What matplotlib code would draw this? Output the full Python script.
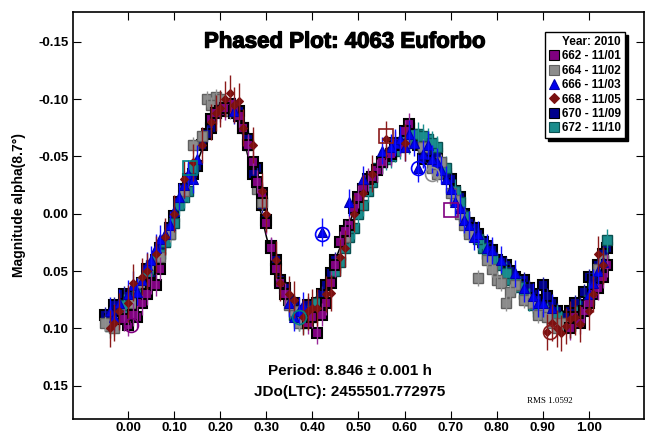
import matplotlib
matplotlib.use("Agg")
import matplotlib.pyplot as plt
import matplotlib.patheffects as pe
from matplotlib.lines import Line2D

plt.rcParams['font.family'] = ['Liberation Sans', 'DejaVu Sans']

# ---- data ----
fit_phase = [-0.05, 0.00, 0.05, 0.10, 0.15, 0.18, 0.20, 0.22, 0.24, 0.26, 0.28, 0.30, 0.32,
             0.34, 0.36, 0.38, 0.40, 0.42, 0.45, 0.48, 0.50, 0.53, 0.56, 0.60, 0.63, 0.66,
             0.70, 0.73, 0.76, 0.80, 0.85, 0.90, 0.93, 0.96, 1.00, 1.03, 1.05]
fit_mag = [0.097, 0.078, 0.042, 0.002, -0.045, -0.078, -0.093, -0.095, -0.083, -0.050, -0.015,
           0.020, 0.050, 0.068, 0.080, 0.083, 0.078, 0.065, 0.040, 0.008, -0.012, -0.038,
           -0.056, -0.068, -0.066, -0.055, -0.025, 0.000, 0.018, 0.038, 0.058, 0.076, 0.086,
           0.084, 0.064, 0.040, 0.020]

p662 = [0.00, 0.02, 0.03, 0.05, 0.07, 0.18, 0.20, 0.22, 0.24, 0.25, 0.27, 0.29, 0.31, 0.33,
        0.39, 0.41, 0.43, 0.45, 0.46, 0.48, 0.49, 0.51, 0.52, 0.54, 0.56, 0.59, 0.61, 0.97,
        0.99, 1.01, 1.03, 1.04,
        -0.01, 0.01, 0.04, 0.06, 0.19, 0.21, 0.23, 0.26, 0.28, 0.30, 0.32, 0.34, 0.40, 0.42,
        0.44, 0.47, 0.50, 0.53, 0.55, 0.57, 0.58, 0.60, 0.96, 0.98, 1.00, 1.02]
m662 = [0.097, 0.090, 0.078, 0.060, 0.048, -0.083, -0.090, -0.096, -0.085, -0.075, -0.045,
        -0.018, 0.030, 0.060, 0.095, 0.104, 0.078, 0.045, 0.025, 0.010, -0.005, -0.022,
        -0.030, -0.038, -0.050, -0.060, -0.078, 0.090, 0.085, 0.070, 0.055, 0.045,
        0.092, 0.088, 0.070, 0.062, -0.088, -0.092, -0.090, -0.060, -0.028, 0.008, 0.048,
        0.070, 0.090, 0.088, 0.060, 0.015, -0.015, -0.032, -0.045, -0.052, -0.062, -0.072,
        0.100, 0.095, 0.078, 0.065]

p664 = [-0.04, -0.03, 0.03, 0.09, 0.14, 0.17, 0.19, 0.21, 0.26, 0.29, 0.36, 0.38, 0.40, 0.47,
        0.60, 0.66, 0.68, 0.71, 0.73, 0.76, 0.79, 0.82, 0.84, 0.87, 0.90, 0.92, 0.95, 1.03,
        -0.05, 0.01, 0.05, 0.07, 0.12, 0.16, 0.18, 0.20, 0.22, 0.28, 0.35, 0.37, 0.39, 0.64,
        0.67, 0.70, 0.72, 0.74, 0.78, 0.80, 0.81, 0.83, 0.86, 0.88, 0.89, 0.91, 0.93, 0.94,
        0.97, 1.02]
m664 = [0.098, 0.100, 0.060, 0.018, -0.060, -0.100, -0.102, -0.096, -0.060, -0.010, 0.085,
        0.092, 0.090, 0.020, -0.062, -0.040, -0.045, -0.012, 0.010, 0.056, 0.048, 0.078,
        0.062, 0.075, 0.085, 0.095, 0.098, 0.040,
        0.095, 0.078, 0.045, 0.038, -0.020, -0.068, -0.095, -0.100, -0.090, -0.022, 0.080,
        0.095, 0.088, -0.058, -0.035, -0.018, 0.000, 0.018, 0.040, 0.058, 0.060, 0.068,
        0.075, 0.078, 0.088, 0.090, 0.100, 0.095, 0.092, 0.048]

p666 = [-0.04, -0.02, 0.01, 0.04, 0.06, 0.09, 0.11, 0.13, 0.15, 0.23, 0.35, 0.37, 0.42, 0.48,
        0.51, 0.55, 0.58, 0.61, 0.63, 0.65, 0.67, 0.69, 0.71, 0.73, 0.75, 0.78, 0.86, 0.89,
        1.00, 1.02,
        -0.03, 0.00, 0.02, 0.03, 0.05, 0.07, 0.08, 0.10, 0.12, 0.14, 0.36, 0.38, 0.57, 0.59,
        0.60, 0.62, 0.64, 0.66, 0.68, 0.70, 0.72, 0.74, 0.76, 0.79, 0.81, 0.84, 0.88, 0.90,
        0.92, 1.01, 1.03]
m666 = [0.085, 0.078, 0.062, 0.045, 0.030, 0.010, -0.015, -0.035, -0.048, -0.090, 0.078,
        0.085, 0.016, -0.010, -0.030, -0.055, -0.062, -0.070, -0.040, -0.060, -0.045, -0.030,
        -0.010, 0.005, 0.020, 0.030, 0.065, 0.078, 0.070, 0.050,
        0.090, 0.070, 0.068, 0.058, 0.040, 0.022, 0.018, -0.002, -0.025, -0.030, 0.090,
        0.080, -0.058, -0.065, -0.058, -0.062, -0.052, -0.048, -0.038, -0.022, -0.005, 0.010,
        0.018, 0.032, 0.040, 0.052, 0.072, 0.078, 0.082, 0.060, 0.042]

p668 = [-0.04, -0.02, 0.01, 0.04, 0.08, 0.12, 0.16, 0.19, 0.22, 0.24, 0.27, 0.30, 0.33, 0.36,
        0.39, 0.41, 0.44, 0.46, 0.49, 0.53, 0.56, 0.60, 0.91, 0.93, 0.95, 0.97, 1.00, 1.02,
        -0.03, 0.00, 0.03, 0.06, 0.10, 0.14, 0.18, 0.20, 0.21, 0.23, 0.25, 0.29, 0.32, 0.35,
        0.38, 0.40, 0.43, 0.47, 0.51, 0.92, 0.94, 0.96, 0.98, 1.01, 1.03]
m668 = [0.100, 0.085, 0.060, 0.050, 0.020, -0.030, -0.060, -0.088, -0.105, -0.098, -0.060,
        0.000, 0.060, 0.075, 0.085, 0.082, 0.069, 0.038, 0.000, -0.035, -0.065, -0.062, 0.103,
        0.100, 0.098, 0.090, 0.085, 0.035,
        0.095, 0.078, 0.055, 0.035, 0.000, -0.045, -0.080, -0.092, -0.100, -0.095, -0.075,
        -0.020, 0.040, 0.070, 0.090, 0.082, 0.070, 0.030, -0.018, 0.095, 0.104, 0.092, 0.096,
        0.070, 0.045]

p670 = [-0.05, -0.03, -0.01, 0.02, 0.04, 0.06, 0.08, 0.10, 0.12, 0.14, 0.16, 0.18, 0.20, 0.22,
        0.24, 0.26, 0.28, 0.30, 0.32, 0.34, 0.36, 0.38, 0.40, 0.42, 0.44, 0.62, 0.64, 0.66,
        0.68, 0.70, 0.72, 0.74, 0.76, 0.78, 0.80, 0.82, 0.84, 0.86, 0.88, 0.90, 0.92, 0.94,
        0.96, 0.98, 1.00, 1.02, 1.04,
        -0.04, -0.02, 0.00, 0.01, 0.03, 0.05, 0.07, 0.09, 0.11, 0.13, 0.15, 0.17, 0.19, 0.21,
        0.23, 0.25, 0.27, 0.29, 0.31, 0.33, 0.35, 0.37, 0.39, 0.41, 0.43, 0.45, 0.47, 0.50,
        0.53, 0.56, 0.59, 0.63, 0.65, 0.67, 0.69, 0.71, 0.73, 0.75, 0.77, 0.79, 0.81, 0.83,
        0.85, 0.87, 0.89, 0.91, 0.93, 0.95, 0.97, 0.99, 1.01, 1.03]
m670 = [0.088, 0.080, 0.070, 0.068, 0.048, 0.040, 0.025, 0.002, -0.022, -0.035, -0.060,
        -0.075, -0.092, -0.092, -0.090, -0.065, -0.040, 0.005, 0.040, 0.065, 0.078, 0.085,
        0.082, 0.070, 0.052, -0.065, -0.048, -0.050, -0.040, -0.030, -0.015, 0.008, 0.018,
        0.028, 0.040, 0.045, 0.055, 0.058, 0.070, 0.062, 0.078, 0.092, 0.085, 0.080, 0.055,
        0.045, 0.030,
        0.092, 0.085, 0.072, 0.075, 0.060, 0.052, 0.030, 0.012, -0.010, -0.030, -0.042,
        -0.070, -0.088, -0.095, -0.088, -0.075, -0.035, -0.008, 0.028, 0.058, 0.075, 0.085,
        0.080, 0.078, 0.062, 0.040, 0.025, -0.008, -0.032, -0.050, -0.062, -0.060, -0.055,
        -0.052, -0.035, -0.020, 0.000, 0.012, 0.025, 0.032, 0.042, 0.050, 0.062, 0.065,
        0.075, 0.072, 0.085, 0.090, 0.078, 0.068, 0.058, 0.035]

p672 = [-0.03, 0.00, 0.02, 0.05, 0.07, 0.09, 0.11, 0.13, 0.14, 0.37, 0.39, 0.45, 0.47, 0.50,
        0.52, 0.54, 0.57, 0.59, 0.61, 0.63, 0.65, 0.67, 0.72, 0.74, 0.77, 0.80, 0.83, 0.86,
        0.88, 0.91, 0.94, 0.97, 1.01, 1.04,
        -0.04, -0.01, 0.01, 0.04, 0.06, 0.08, 0.10, 0.12, 0.36, 0.38, 0.40, 0.41, 0.46, 0.48,
        0.49, 0.51, 0.53, 0.55, 0.56, 0.58, 0.60, 0.62, 0.64, 0.66, 0.69, 0.71, 0.73, 0.76,
        0.78, 0.79, 0.82, 0.84, 0.85, 0.87, 0.89, 0.90, 0.92, 0.93, 0.96, 0.98, 1.00, 1.02,
        1.03]
m672 = [0.095, 0.085, 0.070, 0.048, 0.035, 0.018, -0.008, -0.020, -0.040, 0.092, 0.088,
        0.050, 0.030, 0.000, -0.020, -0.040, -0.050, -0.058, -0.062, -0.070, -0.065, -0.058,
        -0.010, 0.015, 0.030, 0.045, 0.058, 0.070, 0.080, 0.088, 0.095, 0.092, 0.065, 0.023,
        0.098, 0.080, 0.078, 0.055, 0.040, 0.025, 0.008, -0.015, 0.088, 0.095, 0.085, 0.078,
        0.042, 0.020, 0.012, -0.008, -0.028, -0.045, -0.048, -0.055, -0.065, -0.070, -0.068,
        -0.062, -0.040, -0.020, 0.002, 0.022, 0.035, 0.040, 0.052, 0.060, 0.064, 0.075,
        0.082, 0.084, 0.092, 0.090, 0.098, 0.085, 0.075, 0.050, 0.040]

errors = {"662": 0.010, "664": 0.007, "666": 0.012, "668": 0.016, "670": 0.007, "672": 0.010}

hl_phase = [0.005, 0.135, 0.56, 0.70, 0.915, 0.42, 0.63, 0.66, 0.37]
hl_mag = [0.097, -0.040, -0.068, -0.003, 0.103, 0.018, -0.040, -0.035, 0.090]
hl_color = ['#800080', '#008080', '#8B1A1A', '#800080', '#8B1A1A', '#0000FF', '#0000FF',
            '#909090', '#008080']
hl_marker = ['o', 's', 's', 's', 'o', 'o', 'o', 'o', 'o']

legend_labels = ["662 - 11/01", "664 - 11/02", "666 - 11/03", "668 - 11/05",
                 "670 - 11/09", "672 - 11/10"]

xticks = [0.0, 0.1, 0.2, 0.3, 0.4, 0.5, 0.6, 0.7, 0.8, 0.9, 1.0]
yticks = [-0.15, -0.10, -0.05, 0.00, 0.05, 0.10, 0.15]

# ---- styles ----
series = [
    (p662, m662, "662", dict(marker='s', ms=6.5, mfc='#800080', mec='black', mew=1.5), '#9a2a9a'),
    (p664, m664, "664", dict(marker='s', ms=6.5, mfc='#8c8c8c', mec='#606060', mew=1.0), '#909090'),
    (p666, m666, "666", dict(marker='^', ms=6.5, mfc='#0000ee', mec='#0000aa', mew=0.8), '#1010ff'),
    (p668, m668, "668", dict(marker='D', ms=4.2, mfc='#7a1010', mec='#7a1010', mew=0.8), '#8B1A1A'),
    (p670, m670, "670", dict(marker='s', ms=6.5, mfc='#00008c', mec='black', mew=1.5), '#2020a0'),
    (p672, m672, "672", dict(marker='s', ms=6.5, mfc='#1a8c8c', mec='#0a5050', mew=1.0), '#1a9090'),
]

fig = plt.figure(figsize=(6.47, 4.37), dpi=100)
ax = fig.add_axes([73 / 647, 1 - 419 / 437, (644 - 73) / 647, (419 - 12) / 437])

order = [4, 5, 1, 0, 2, 3]
for rank, i in enumerate(order):
    p, m, key, st, ecol = series[i]
    ax.plot(p, m, linestyle='none', zorder=3 + rank * 0.1, **st)
    ax.errorbar(p, m, yerr=errors[key], fmt='none', ecolor=ecol, elinewidth=1.0,
                capsize=0, zorder=3.05 + rank * 0.1)

ax.plot(fit_phase, fit_mag, color='black', lw=1.1, zorder=2.5)

for x, y, c, mk in zip(hl_phase, hl_mag, hl_color, hl_marker):
    ax.plot([x], [y], marker=mk, ms=10, mfc='none', mec=c, mew=1.2, zorder=5)

ax.set_xlim(-0.12, 1.12)
ax.set_ylim(0.179, -0.176)
ax.set_xticks(xticks)
ax.set_xticklabels([f"{t:.2f}" for t in xticks])
ax.set_yticks(yticks)
ax.set_yticklabels([f"{t:.2f}" for t in yticks])
ax.tick_params(direction='in', length=6, width=0.8, labelsize=9.5, right=True, top=True)
ax.tick_params(axis='x', pad=2)
ax.tick_params(axis='y', pad=3)
for lab in ax.get_xticklabels() + ax.get_yticklabels():
    lab.set_fontweight('bold')
for s in ax.spines.values():
    s.set_linewidth(1.2)

ax.set_ylabel("Magnitude alpha(8.7°)", fontsize=10, fontweight='bold')
ax.yaxis.set_label_coords(-0.082, 0.527)

ax.text(0.476, 0.926, "Phased Plot: 4063 Euforbo", transform=ax.transAxes, ha='center',
        va='center', fontsize=16, fontweight='bold',
        path_effects=[pe.withStroke(linewidth=0.9, foreground='black')])
ax.text(0.485, 0.118, "Period: 8.846 ± 0.001 h", transform=ax.transAxes, ha='center',
        va='center', fontsize=11, fontweight='bold')
ax.text(0.485, 0.066, "JDo(LTC): 2455501.772975", transform=ax.transAxes, ha='center',
        va='center', fontsize=11, fontweight='bold')
ax.text(0.835, 0.044, "RMS 1.0592", transform=ax.transAxes, ha='center', va='center',
        fontsize=6.5, family=['Liberation Serif', 'DejaVu Serif'])

handles = []
for p, m, key, st, ecol in series:
    h = dict(st)
    h['ms'] = 7 if h['marker'] != 'D' else 5
    h['mew'] = 0.8
    handles.append(Line2D([], [], linestyle='none', **h))
leg = ax.legend(handles, legend_labels, title="Year: 2010", loc='upper right',
                bbox_to_anchor=((625 - 73) / (644 - 73), 1 - (32 - 12) / 407),
                borderaxespad=0, fontsize=8.5, title_fontsize=8.5, handlelength=0.8,
                handletextpad=0.3, labelspacing=0.2, borderpad=0.35, fancybox=False,
                framealpha=1, edgecolor='black', alignment='right',
                shadow={'color': 'black', 'alpha': 1.0})
leg.get_frame().set_linewidth(1.0)
leg.get_title().set_fontweight('bold')
for t in leg.get_texts():
    t.set_fontweight('bold')
leg.set_zorder(10)

fig.savefig("out.png", dpi=100)
